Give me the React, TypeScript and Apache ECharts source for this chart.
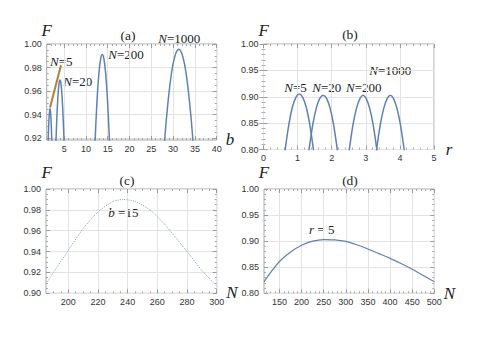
import React, { useEffect, useRef } from "react";
import * as echarts from "echarts";

// ---------- panel (a): F vs b ----------
const aN5B = [1.25, 1.4, 1.55, 1.68, 1.76, 1.85, 1.98, 2.12, 2.28];
const aN5F = [0.905, 0.925, 0.938, 0.9435, 0.945, 0.9435, 0.937, 0.924, 0.904];
const aN20B = [3.0, 3.3, 3.6, 3.85, 4.05, 4.25, 4.5, 4.8, 5.1];
const aN20F = [0.903, 0.935, 0.957, 0.967, 0.9695, 0.967, 0.957, 0.935, 0.903];
const aN200B = [12.0, 12.5, 13.0, 13.4, 13.75, 14.1, 14.5, 15.0, 15.5];
const aN200F = [0.909, 0.949, 0.976, 0.9877, 0.991, 0.9877, 0.976, 0.949, 0.909];
const aN1000B = [27.6, 28.5, 29.5, 30.4, 31.3, 32.2, 33.1, 34.1, 35.0];
const aN1000F = [0.895, 0.938, 0.972, 0.9895, 0.9955, 0.9895, 0.972, 0.938, 0.895];
const aPointerB = [1.76, 4.28];
const aPointerF = [0.946, 0.982];
const aXTicks = [5, 10, 15, 20, 25, 30, 35, 40];
const aYTicks = [0.92, 0.94, 0.96, 0.98, 1.0];

// ---------- panel (b): F vs r ----------
const bN5R = [0.63, 0.75, 0.85, 0.95, 1.05, 1.15, 1.25, 1.35, 1.47];
const bN5F = [0.797, 0.85, 0.881, 0.899, 0.905, 0.899, 0.881, 0.85, 0.797];
const bN20R = [1.33, 1.45, 1.55, 1.65, 1.75, 1.85, 1.95, 2.05, 2.17];
const bN20F = [0.797, 0.849, 0.879, 0.897, 0.903, 0.897, 0.879, 0.849, 0.797];
const bN200R = [2.51, 2.63, 2.73, 2.83, 2.92, 3.01, 3.11, 3.21, 3.33];
const bN200F = [0.797, 0.849, 0.879, 0.897, 0.903, 0.897, 0.879, 0.849, 0.797];
const bN1000R = [3.31, 3.43, 3.53, 3.63, 3.72, 3.81, 3.91, 4.01, 4.13];
const bN1000F = [0.797, 0.849, 0.879, 0.897, 0.903, 0.897, 0.879, 0.849, 0.797];
const bXTicks = [0, 1, 2, 3, 4, 5];
const bYTicks = [0.8, 0.85, 0.9, 0.95, 1.0];

// ---------- panel (c): F vs N, b = 15 ----------
const cN = [185, 190, 200, 210, 220, 230, 237, 245, 255, 265, 280, 290, 300];
const cF = [0.909, 0.92, 0.941, 0.962, 0.978, 0.988, 0.99, 0.988, 0.98, 0.966, 0.94, 0.922, 0.907];
const cXTicks = [200, 220, 240, 260, 280, 300];
const cYTicks = [0.9, 0.92, 0.94, 0.96, 0.98, 1.0];

// ---------- panel (d): F vs N, r = 5 ----------
const dN = [115, 130, 150, 175, 200, 225, 250, 275, 300, 325, 350, 375, 400, 425, 450, 475, 500];
const dF = [0.822, 0.84, 0.861, 0.879, 0.892, 0.9, 0.903, 0.9025, 0.8995, 0.893, 0.885, 0.876, 0.867, 0.857, 0.846, 0.834, 0.822];
const dXTicks = [150, 200, 250, 300, 350, 400, 450, 500];
const dYTicks = [0.8, 0.85, 0.9, 0.95, 1.0];

const BLUE = "#5E81B5";
const SERIF = "'Liberation Serif', 'Times New Roman', serif";
const SANS = "'Liberation Sans', Arial, sans-serif";

const zip = (xs: number[], ys: number[]) => xs.map((x, i) => [x, ys[i]]);

function axis(
  kind: "x" | "y",
  gridIndex: number,
  main: boolean,
  min: number,
  max: number,
  ticks: number[],
  extra: any,
  minorSplit: number,
  fmt: (v: number) => string
) {
  return {
    type: "value",
    gridIndex,
    position: kind === "x" ? (main ? "bottom" : "top") : main ? "left" : "right",
    min,
    max,
    ...extra,
    axisLine: { show: false },
    axisTick: {
      show: true,
      inside: true,
      length: 4,
      customValues: ticks,
      lineStyle: { color: "#9a9a9a", width: 1 },
    },
    minorTick: {
      show: true,
      splitNumber: minorSplit,
      length: 2,
      lineStyle: { color: "#aaaaaa", width: 1 },
    },
    axisLabel: {
      show: main,
      customValues: ticks,
      formatter: fmt,
      fontSize: 9,
      fontFamily: SANS,
      color: "#333",
      margin: kind === "x" ? 4 : 5,
      showMinLabel: true,
      showMaxLabel: true,
    },
    splitLine: { show: main, lineStyle: { color: "#e3e3e3", width: 1 } },
    minorSplitLine: { show: false },
  };
}

const f2 = (v: number) => v.toFixed(2);
const f0 = (v: number) => String(Math.round(v));

function txt(x: number, y: number, text: string, size: number, opts: any = {}) {
  return {
    type: "text",
    x,
    y,
    silent: true,
    style: {
      text,
      fontSize: size,
      fontFamily: SERIF,
      fill: "#222",
      align: opts.align || "center",
      textAlign: opts.align || "center",
      verticalAlign: "middle",
      textVerticalAlign: "middle",
      fontStyle: opts.italic ? "italic" : "normal",
      rich: {
        i: { fontStyle: "italic", fontSize: size, fontFamily: SERIF, fill: "#222" },
        n: { fontSize: size, fontFamily: SERIF, fill: "#222" },
      },
    },
  };
}

export default function App() {
  const ref = useRef<HTMLDivElement>(null);
  useEffect(() => {
    if (!ref.current) return;
    const chart = echarts.init(ref.current, null, { renderer: "svg" });
    const grids = [
      { left: 46.7, top: 44, width: 170, height: 96 },
      { left: 263.5, top: 44, width: 170.5, height: 105.5 },
      { left: 46, top: 189, width: 170.7, height: 104.3 },
      { left: 264, top: 189, width: 170.3, height: 104.3 },
    ].map((g) => ({ ...g, show: true, borderColor: "#a8a8a8", borderWidth: 1, backgroundColor: "transparent", containLabel: false }));

    const xAxes: any[] = [];
    const yAxes: any[] = [];
    const xs = [
      { min: 1, max: 40, ticks: aXTicks, extra: { splitNumber: 8 }, minor: 5, fmt: f0 },
      { min: 0, max: 5, ticks: bXTicks, extra: { interval: 1 }, minor: 5, fmt: f0 },
      { min: 185, max: 300, ticks: cXTicks, extra: { splitNumber: 6 }, minor: 4, fmt: f0 },
      { min: 115, max: 500, ticks: dXTicks, extra: { splitNumber: 7 }, minor: 5, fmt: f0 },
    ];
    const ys = [
      { min: 0.9185, max: 1.0, ticks: aYTicks, extra: { splitNumber: 4 }, minor: 4, fmt: f2 },
      { min: 0.8, max: 1.0, ticks: bYTicks, extra: { interval: 0.05 }, minor: 5, fmt: f2 },
      { min: 0.9, max: 1.0, ticks: cYTicks, extra: { interval: 0.02 }, minor: 4, fmt: f2 },
      { min: 0.8, max: 1.0, ticks: dYTicks, extra: { interval: 0.05 }, minor: 5, fmt: f2 },
    ];
    for (let g = 0; g < 4; g++) {
      const X = xs[g];
      const Y = ys[g];
      xAxes.push(axis("x", g, true, X.min, X.max, X.ticks, X.extra, X.minor, X.fmt));
      xAxes.push(axis("x", g, false, X.min, X.max, X.ticks, X.extra, X.minor, X.fmt));
      yAxes.push(axis("y", g, true, Y.min, Y.max, Y.ticks, Y.extra, Y.minor, Y.fmt));
      yAxes.push(axis("y", g, false, Y.min, Y.max, Y.ticks, Y.extra, Y.minor, Y.fmt));
    }

    const line = (g: number, data: number[][], extra: any = {}) => ({
      type: "line",
      xAxisIndex: 2 * g,
      yAxisIndex: 2 * g,
      data,
      showSymbol: false,
      symbol: "none",
      smooth: 0.35,
      clip: true,
      silent: true,
      lineStyle: { color: BLUE, width: 1.5 },
      ...extra,
    });

    const series: any[] = [
      line(0, zip(aN5B, aN5F)),
      line(0, zip(aN20B, aN20F)),
      line(0, zip(aN200B, aN200F)),
      line(0, zip(aN1000B, aN1000F)),
      line(0, zip(aPointerB, aPointerF), { smooth: false, lineStyle: { color: "#b47e3c", width: 2 } }),
      line(1, zip(bN5R, bN5F)),
      line(1, zip(bN20R, bN20F)),
      line(1, zip(bN200R, bN200F)),
      line(1, zip(bN1000R, bN1000F)),
      line(2, zip(cN, cF), { smooth: 0.2, lineStyle: { color: "#7c9bd0", width: 1, type: [1, 1.2] } }),
      line(3, zip(dN, dF), { smooth: 0.2, lineStyle: { color: BLUE, width: 1.2 } }),
    ];

    const graphics: any[] = [
      // panel (a)
      txt(46.7, 30.5, "F", 17, { italic: true }),
      txt(128, 35.7, "(a)", 13.5),
      txt(230, 139, "b", 17, { italic: true }),
      txt(50, 61.3, "{i|N}{n|=5}", 13, { align: "left" }),
      txt(63.3, 81, "{i|N}{n|=20}", 13, { align: "left" }),
      txt(108.3, 54.7, "{i|N}{n|=200}", 13, { align: "left" }),
      txt(158.3, 38.3, "{i|N}{n|=1000}", 13, { align: "left" }),
      // panel (b)
      txt(263.8, 30, "F", 17, { italic: true }),
      txt(350, 34.3, "(b)", 13.5),
      txt(449, 149, "r", 17, { italic: true }),
      txt(284.3, 87, "{i|N}{n|=5}", 13, { align: "left" }),
      txt(312.3, 87, "{i|N}{n|=20}", 13, { align: "left" }),
      txt(346, 87, "{i|N}{n|=200}", 13, { align: "left" }),
      txt(369.3, 70, "{i|N}{n|=1000}", 13, { align: "left" }),
      // panel (c)
      txt(46.7, 172, "F", 17, { italic: true }),
      txt(127, 180, "(c)", 13.5),
      txt(232, 292.3, "N", 17, { italic: true }),
      txt(108.3, 212.5, "{i|b}{n| =15}", 13, { align: "left" }),
      // panel (d)
      txt(264, 172, "F", 17, { italic: true }),
      txt(350, 180, "(d)", 13.5),
      txt(449.5, 293.3, "N", 17, { italic: true }),
      txt(321.7, 229.5, "{i|r}{n| = 5}", 13),
    ];

    chart.setOption({
      animation: false,
      backgroundColor: "#ffffff",
      grid: grids,
      xAxis: xAxes,
      yAxis: yAxes,
      series,
      graphic: { elements: graphics },
    });
    return () => chart.dispose();
  }, []);
  return (
    <div
      ref={ref}
      style={{ position: "fixed", left: 0, top: 0, width: 501, height: 350, background: "#fff" }}
    />
  );
}
